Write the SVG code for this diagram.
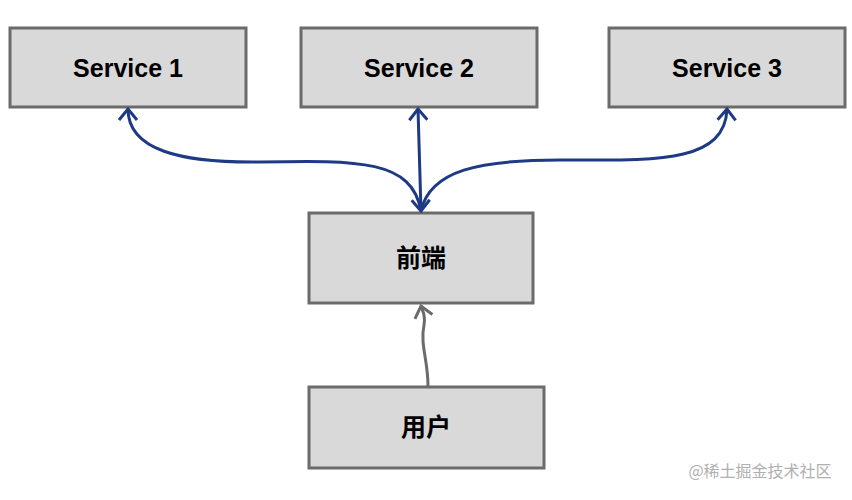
<svg xmlns="http://www.w3.org/2000/svg" width="852" height="500" viewBox="0 0 852 500">
<style>
.box{fill:#d9d9d9;stroke:#6b6b6b;stroke-width:3}
.t{font-family:"Liberation Sans","Noto Sans CJK SC",sans-serif;font-weight:bold;font-size:25px;fill:#000;text-anchor:middle}
.c{fill:none;stroke:#1f3a85;stroke-width:3}
</style>
<defs>
<marker id="a" markerUnits="userSpaceOnUse" viewBox="-14 -12 16 24" refX="0" refY="0" markerWidth="16" markerHeight="24" orient="auto-start-reverse">
<path d="M-11,-9 L0,0 L-11,9" fill="none" stroke="#1f3a85" stroke-width="3"/>
</marker>
<marker id="g" markerUnits="userSpaceOnUse" viewBox="-14 -12 16 24" refX="0" refY="0" markerWidth="16" markerHeight="24" orient="auto">
<path d="M-11,-9 L0,0 L-11,9" fill="none" stroke="#6b6b6b" stroke-width="3"/>
</marker>
</defs>
<rect width="852" height="500" fill="#fff"/>
<g id="s1"><rect class="box" x="10" y="28" width="236" height="79"/><text class="t" x="128" y="77">Service 1</text></g>
<g id="s2"><rect class="box" x="301" y="28" width="236" height="79"/><text class="t" x="419" y="77">Service 2</text></g>
<g id="s3"><rect class="box" x="609" y="28" width="236" height="79"/><text class="t" x="727" y="77">Service 3</text></g>
<g id="fe"><rect class="box" x="309" y="213" width="224" height="90"/><text class="t" x="421" y="267">前端</text></g>
<g id="user"><rect class="box" x="309" y="387" width="235" height="81"/><text class="t" x="426" y="436">用户</text></g>
<g id="connectors">
<path class="c" marker-start="url(#a)" d="M128,109 C128,150 180,163 260,162 C360,160 412,160 421,211"/>
<path class="c" marker-start="url(#a)" marker-end="url(#a)" d="M418,109 L421,211"/>
<path class="c" marker-end="url(#a)" d="M421,211 C430,170 480,160 560,160 C650,160 725,165 727,109"/>
<path fill="none" stroke="#6b6b6b" stroke-width="3" marker-end="url(#g)" d="M428,386 C428,360 420,345 424,325 C426,315 422,310 421,306"/>
</g>
<text x="760" y="477" font-family="'Noto Sans CJK SC',sans-serif" font-size="16" fill="#b0b0b0" text-anchor="middle">@稀土掘金技术社区</text>
</svg>
